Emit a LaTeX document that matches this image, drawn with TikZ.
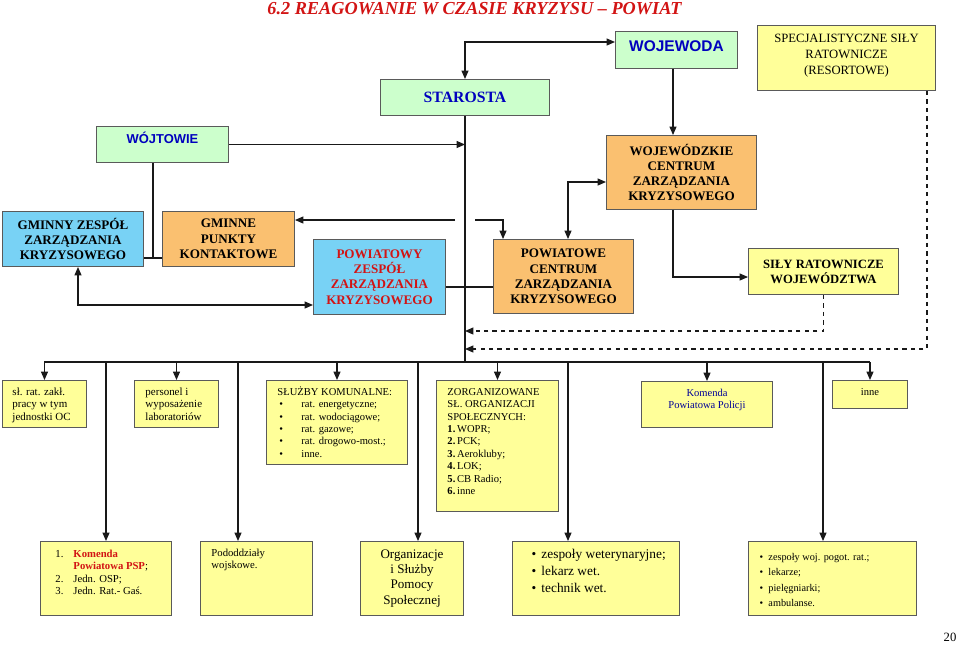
\documentclass[tikz,border=0pt]{standalone}
\usepackage{fontspec}
\setmainfont{Liberation Serif}
\setsansfont{Liberation Sans}
\usetikzlibrary{arrows.meta, positioning, calc}

\definecolor{zielony}{RGB}{204,255,204}
\definecolor{niebieski}{RGB}{120,210,245}
\definecolor{pomar}{RGB}{250,192,112}
\definecolor{zolty}{RGB}{255,255,153}
\definecolor{ramka}{RGB}{90,90,90}
\definecolor{tekstnieb}{RGB}{0,0,190}
\definecolor{tekstczer}{RGB}{210,20,20}

\newdimen\pxu \pxu=0.025cm
\newcommand{\komorka}[4][t]{\parbox[c][#3\pxu][#1]{#2\pxu}{#4}}
\newcommand{\bazowa}[1]{\rule{0pt}{#1\pxu}}
\newcommand{\pkt}[2]{\makebox[#1\pxu][l]{\hspace{#2\pxu}\textbullet}}

\begin{document}
\begin{tikzpicture}[
    x=0.025cm, y=-0.025cm,
    box/.style={draw=ramka, line width=0.7pt, inner sep=0pt, anchor=north west},
    duzy/.style={font=\fontsize{9.3}{10.9}\selectfont\bfseries},
    maly/.style={font=\fontsize{7.8}{8.8}\selectfont},
    linia/.style={draw=black!90, line width=0.8pt},
    >={Triangle[length=6pt,width=5pt]}
]
\useasboundingbox (0,0) rectangle (959,645);

\node[font=\fontsize{13}{15}\selectfont\bfseries\itshape, text=tekstczer] (tytul) at (474.5,8.5) {6.2 REAGOWANIE W CZASIE KRYZYSU – POWIAT};

% gorny poziom
\node[box, fill=zielony, font=\fontsize{11.2}{13}\selectfont\bfseries, text=tekstnieb] (starosta) at (380,79) {\komorka[c]{169}{36}{\centering STAROSTA}};
\node[box, fill=zielony, font=\fontsize{11}{13}\selectfont\sffamily\bfseries, text=tekstnieb] (wojewoda) at (615,31) {\komorka{122}{37}{\centering\bazowa{20}WOJEWODA}};
\node[box, fill=zolty, font=\fontsize{9}{11.4}\selectfont] (specj) at (757,25) {\komorka{178}{65}{\centering\bazowa{17}SPECJALISTYCZNE SIŁY\\RATOWNICZE\\(RESORTOWE)}};
\node[box, fill=zielony, font=\fontsize{9.2}{11}\selectfont\sffamily\bfseries, text=tekstnieb] (wojt) at (96,126) {\komorka{132}{36}{\centering\bazowa{17}WÓJTOWIE}};
\node[box, fill=pomar, duzy] (wczk) at (606,135) {\komorka[c]{150}{74}{\centering WOJEWÓDZKIE\\CENTRUM\\ZARZĄDZANIA\\KRYZYSOWEGO}};
\node[box, fill=niebieski, duzy] (gzzk) at (2,211) {\komorka[c]{141}{55}{\centering GMINNY ZESPÓŁ\\ZARZĄDZANIA\\KRYZYSOWEGO}};
\node[box, fill=pomar, duzy] (gpk) at (162,211) {\komorka[c]{132}{55}{\centering GMINNE\\PUNKTY\\KONTAKTOWE}};
\node[box, fill=niebieski, duzy, text=tekstczer] (pzzk) at (313,239) {\komorka[c]{132}{75}{\centering POWIATOWY\\ZESPÓŁ\\ZARZĄDZANIA\\KRYZYSOWEGO}};
\node[box, fill=pomar, duzy] (pczk) at (493,239) {\komorka[c]{140}{74}{\centering POWIATOWE\\CENTRUM\\ZARZĄDZANIA\\KRYZYSOWEGO}};
\node[box, fill=zolty, font=\fontsize{9}{10.7}\selectfont\bfseries] (srw) at (748,248) {\komorka[c]{150}{46}{\centering SIŁY RATOWNICZE\\WOJEWÓDZTWA}};

% drugi rzad
\node[box, fill=zolty, maly] (slrat) at (2,380) {\komorka{84}{47}{\raggedright\leftskip=10\pxu\bazowa{15}sł. rat. zakł.\\pracy w tym\\jednostki OC}};
\node[box, fill=zolty, maly] (personel) at (134,380) {\komorka{84}{47}{\raggedright\leftskip=11\pxu\bazowa{15}personel i\\wyposażenie\\laboratoriów}};
\node[box, fill=zolty, font=\fontsize{7.5}{8.8}\selectfont] (sluzby) at (266,380) {\komorka{141}{84}{\raggedright\leftskip=11\pxu\bazowa{15}SŁUŻBY KOMUNALNE:\\\pkt{24}{2}rat. energetyczne;\\\pkt{24}{2}rat. wodociągowe;\\\pkt{24}{2}rat. gazowe;\\\pkt{24}{2}rat. drogowo-most.;\\\pkt{24}{2}inne.}};
\node[box, fill=zolty, font=\fontsize{7.5}{8.8}\selectfont] (zorg) at (436,380) {\komorka{122}{131}{\raggedright\leftskip=11\pxu\bazowa{15}ZORGANIZOWANE\\SŁ. ORGANIZACJI\\SPOŁECZNYCH:\\\textbf{1.}\,WOPR;\\\textbf{2.}\,PCK;\\\textbf{3.}\,Aerokluby;\\\textbf{4.}\,LOK;\\\textbf{5.}\,CB Radio;\\\textbf{6.}\,inne}};
\node[box, fill=zolty, font=\fontsize{7.5}{8.8}\selectfont, text=tekstnieb!80!black] (kpp) at (641,381) {\komorka{131}{46}{\centering\bazowa{15}Komenda\\Powiatowa Policji}};
\node[box, fill=zolty, font=\fontsize{7.5}{8.8}\selectfont] (inne) at (832,380) {\komorka{75}{28}{\centering\bazowa{15}inne}};

% trzeci rzad
\node[box, fill=zolty, font=\fontsize{7.6}{8.8}\selectfont] (psp) at (40,541) {\komorka{131}{74}{\raggedright\leftskip=15\pxu\bazowa{16}\makebox[18\pxu][l]{1.}\textcolor{tekstczer}{\textbf{Komenda}}\\\hspace*{18\pxu}\textcolor{tekstczer}{\textbf{Powiatowa PSP}};\\\makebox[18\pxu][l]{2.}Jedn. OSP;\\\makebox[18\pxu][l]{3.}Jedn. Rat.- Gaś.}};
\node[box, fill=zolty, font=\fontsize{7.6}{8.8}\selectfont] (wojsk) at (200,541) {\komorka{112}{74}{\raggedright\leftskip=11\pxu\bazowa{15}Pododdziały\\wojskowe.}};
\node[box, fill=zolty, font=\fontsize{9.3}{10.7}\selectfont] (pomoc) at (360,541) {\komorka[c]{103}{74}{\centering Organizacje\\i Służby\\Pomocy\\Społecznej}};
\node[box, fill=zolty, font=\fontsize{9.5}{12.1}\selectfont] (wet) at (512,541) {\komorka{167}{74}{\raggedright\leftskip=19\pxu\bazowa{17}\pkt{10}{0}zespoły weterynaryjne;\\\pkt{10}{0}lekarz wet.\\\pkt{10}{0}technik wet.}};
\node[box, fill=zolty, font=\fontsize{7.3}{11}\selectfont] (med) at (748,541) {\komorka{168}{74}{\raggedright\leftskip=11\pxu\bazowa{19}\pkt{9}{0}zespoły woj. pogot. rat.;\\\pkt{9}{0}lekarze;\\\pkt{9}{0}pielęgniarki;\\\pkt{9}{0}ambulanse.}};

\node[font=\fontsize{9}{10}\selectfont] (strona) at (950,637) {20};

% polaczenia
\coordinate (busL) at (slrat.north |- 0,362);
\coordinate (busR) at (inne.north |- 0,362);
\draw[linia] (starosta.south) -- (starosta.south |- busL);
\draw[linia] (busL) -- (busR);
\foreach \n in {slrat,personel,sluzby,zorg,kpp,inne}
    \draw[linia,->] (\n.north |- busL) -- (\n.north);
\foreach \n/\x in {psp/106, wojsk/238, pomoc/418, wet/568, med/823} {
    \coordinate (zj) at (\x,362);
    \draw[linia,->] (zj) -- (zj |- \n.north);
}

\draw[linia,<->] (starosta.north) |- (wojewoda.west |- 0,42);
\draw[linia,->] (wojewoda.south -| 673,0) -- (wczk.north -| 673,0);
\draw[linia,->] (wojt.east) -- (wojt.east -| starosta.south);
\coordinate (tj) at (153,258);
\draw[linia] (wojt.south -| tj) -- (tj);
\draw[linia] (gzzk.east |- tj) -- (gpk.west |- tj);
\coordinate (hopL) at (455,220);
\coordinate (hopR) at (475,220);
\draw[linia,->] (hopL) -- (gpk.east |- hopL);
\draw[linia,->] (hopR) -| (pczk.north -| 503,0);
\draw[linia,<->] (gzzk.south -| 78,0) |- (pzzk.west |- 0,305);
\draw[linia] (pzzk.east |- 0,287) -- (pczk.west |- 0,287);
\draw[linia,<->] (pczk.north -| 568,0) |- (wczk.west |- 0,182);
\draw[linia,->] (wczk.south -| 673,0) |- (srw.west |- 0,277);
\draw[linia,dashed,->] (srw.south) |- (starosta.south |- 0,331);
\draw[linia,dashed,->] (specj.south -| 927,0) |- (starosta.south |- 0,349);
\end{tikzpicture}
\end{document}
